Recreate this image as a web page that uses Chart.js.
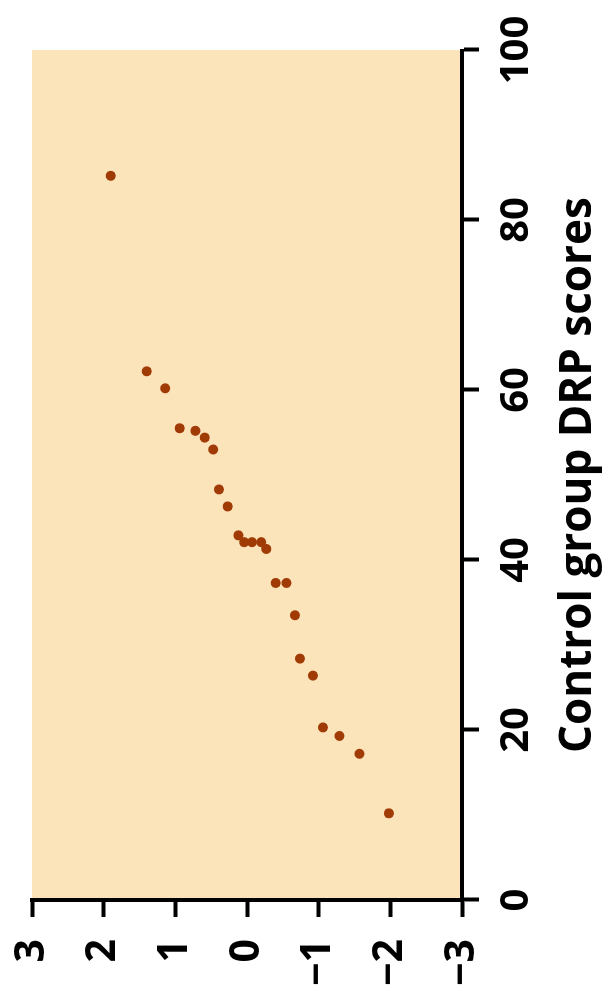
<!DOCTYPE html>
<html>
<head>
<meta charset="utf-8">
<title>Control group DRP scores</title>
<script src="https://cdn.jsdelivr.net/npm/chart.js@4.4.1/dist/chart.umd.min.js"></script>
<style>
    html, body { margin: 0; padding: 0; background: #fff; overflow: hidden; }
    /* chart is drawn landscape and turned a quarter counter-clockwise */
    #wrap {
        position: absolute; left: 0; top: 0;
        width: 1005px; height: 603px;
        transform-origin: 0 0;
        transform: translateY(1005px) rotate(-90deg);
    }
</style>
</head>
<body>
<div id="wrap"><canvas id="drpChart" width="1005" height="603"></canvas></div>
<script>
var drpScores = [85.2, 62.2, 60.2, 55.5, 55.2, 54.4, 53.0, 48.3, 46.3, 42.9, 42.1, 42.1,
                 42.1, 41.3, 37.3, 37.3, 33.5, 28.4, 26.4, 20.3, 19.3, 17.2, 10.2];
var zScores = [1.90, 1.40, 1.14, 0.94, 0.72, 0.59, 0.47, 0.39, 0.27, 0.12, 0.04, -0.07,
               -0.20, -0.27, -0.40, -0.55, -0.67, -0.74, -0.92, -1.06, -1.29, -1.57, -1.98];
var scoreTicks = [0, 20, 40, 60, 80, 100];
var zTicks = [-3, -2, -1, 0, 1, 2, 3];

document.addEventListener('DOMContentLoaded', function() {
    var points = drpScores.map(function(s, i) {
        return { x: s, y: zScores[i] };
    });

    var plotBackground = {
        id: 'plotBackground',
        beforeDraw: function(chart) {
            var a = chart.chartArea;
            var c = chart.ctx;
            c.save();
            c.fillStyle = '#fbe3ba';
            c.fillRect(a.left, a.top, a.right - a.left, a.bottom - a.top);
            c.restore();
        }
    };

    var ctx = document.getElementById('drpChart').getContext('2d');
    var drpChart = new Chart(ctx, {
        type: 'scatter',
        data: {
            datasets: [{
                label: 'Control group',
                data: points,
                pointRadius: 5,
                pointHoverRadius: 5,
                borderWidth: 0,
                backgroundColor: '#a13b06'
            }]
        },
        options: {
            responsive: false,
            animation: false,
            devicePixelRatio: 1,
            layout: { padding: { top: 32, right: 50, left: 0, bottom: 0 } },
            plugins: {
                legend: { display: false },
                tooltip: { enabled: false }
            },
            scales: {
                x: {
                    type: 'linear',
                    min: 0,
                    max: 100,
                    afterBuildTicks: function(scale) {
                        scale.ticks = scoreTicks.map(function(v) { return { value: v }; });
                    },
                    afterFit: function(scale) {
                        scale.height = 141;
                        scale.paddingLeft = 0;
                        scale.paddingRight = 0;
                    },
                    ticks: {
                        color: '#000',
                        padding: 14,
                        maxRotation: 0,
                        font: { family: 'Open Sans', size: 40, weight: 'bold' }
                    },
                    grid: {
                        drawOnChartArea: false,
                        tickLength: 17,
                        tickWidth: 4,
                        tickColor: '#000'
                    },
                    border: { display: true, width: 4, color: '#000' },
                    title: {
                        display: true,
                        text: 'Control group DRP scores',
                        color: '#000',
                        padding: { top: 0, bottom: 0 },
                        font: { family: 'Open Sans', size: 44, weight: 'bold', lineHeight: 1.1 }
                    }
                },
                y: {
                    type: 'linear',
                    min: -3,
                    max: 3,
                    afterBuildTicks: function(scale) {
                        scale.ticks = zTicks.map(function(v) { return { value: v }; });
                    },
                    afterFit: function(scale) {
                        scale.width = 105;
                        scale.paddingTop = 0;
                        scale.paddingBottom = 0;
                    },
                    ticks: {
                        color: '#000',
                        padding: 22,
                        font: { family: 'Open Sans', size: 41, weight: 'bold' },
                        callback: function(v) {
                            return v < 0 ? '\u2212' + Math.abs(v) : String(v);
                        }
                    },
                    grid: {
                        drawOnChartArea: false,
                        tickLength: 17,
                        tickWidth: 4,
                        tickColor: '#000'
                    },
                    border: { display: true, width: 4, color: '#000' }
                }
            }
        },
        plugins: [plotBackground]
    });
});
</script>
</body>
</html>
